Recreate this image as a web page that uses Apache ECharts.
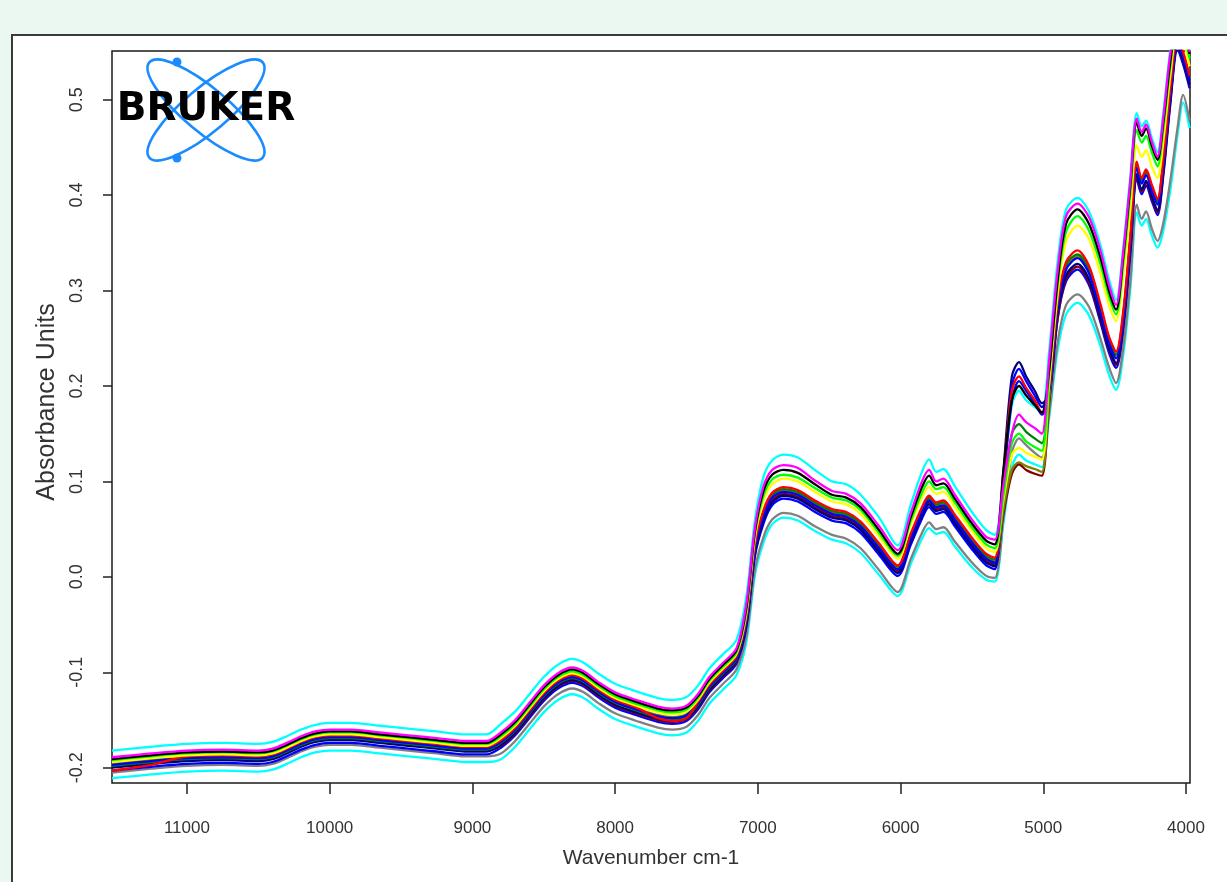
<!DOCTYPE html>
<html><head><meta charset="utf-8">
<script src="https://cdn.jsdelivr.net/npm/echarts@6/dist/echarts.min.js"></script>
<style>
html,body{margin:0;padding:0;width:1227px;height:882px;overflow:hidden;background:#eaf8f1;}
#panel{position:absolute;left:11px;top:34px;width:1240px;height:900px;background:#fff;border:2px solid #3a3a3a;box-sizing:border-box;}
#chart{position:absolute;left:0;top:0;width:1227px;height:882px;}
</style></head><body>
<div id="panel"></div><div id="chart"></div>
<script>
const wavenumbers = [11525,11250,11000,10750,10500,10400,10300,10200,10100,10000,
 9850,9650,9450,9250,9050,8900,8800,8700,8600,8500,
 8400,8300,8220,8120,8000,7850,7700,7600,7500,7420,
 7340,7250,7150,7080,7020,6960,6900,6820,6720,6600,
 6480,6380,6280,6150,6020,5930,5850,5800,5750,5700,
 5620,5500,5400,5340,5280,5220,5170,5120,5060,5010,
 4960,4900,4840,4760,4680,4600,4540,4490,4440,4390,
 4345,4310,4280,4240,4200,4160,4110,4060,4020,3975];
const xTicks = [11000,10000,9000,8000,7000,6000,5000,4000];
const yTicks = [-0.2,-0.1,0.0,0.1,0.2,0.3,0.4,0.5];

const specCyanTop = [-0.182,-0.178,-0.175,-0.174,-0.175,-0.173,-0.167,-0.160,-0.155,-0.153,-0.153,-0.156,-0.159,-0.162,-0.165,-0.165,
 -0.154,-0.141,-0.123,-0.105,-0.092,-0.086,-0.090,-0.101,-0.112,-0.120,-0.127,-0.129,-0.126,-0.114,-0.096,-0.082,-0.066,
 -0.020,0.060,0.105,0.122,0.128,0.125,0.112,0.100,0.097,0.086,0.062,0.033,0.075,0.110,0.123,0.110,0.113,0.095,0.068,0.049,0.044,
 0.100,0.180,0.195,0.185,0.178,0.172,
 0.235,0.330,0.385,0.397,0.383,0.348,0.312,0.290,0.345,0.420,0.486,0.472,0.478,0.460,0.445,0.485,0.552,0.590,0.580,0.552];
const specMagenta = [-0.189,-0.185,-0.182,-0.181,-0.182,-0.180,-0.174,-0.167,-0.162,-0.160,-0.160,-0.163,-0.166,-0.169,-0.172,-0.172,
 -0.163,-0.150,-0.132,-0.114,-0.101,-0.095,-0.099,-0.110,-0.121,-0.129,-0.136,-0.138,-0.135,-0.123,-0.105,-0.091,-0.075,
 -0.028,0.052,0.095,0.112,0.117,0.114,0.101,0.090,0.087,0.077,0.053,0.028,0.066,0.100,0.112,0.100,0.103,0.086,0.060,0.042,0.039,
 0.095,0.150,0.170,0.162,0.156,0.150,
 0.225,0.320,0.378,0.391,0.377,0.342,0.306,0.285,0.340,0.415,0.480,0.466,0.474,0.456,0.440,0.480,0.548,0.588,0.578,0.550];
const specBlack = [-0.191,-0.187,-0.184,-0.183,-0.184,-0.182,-0.176,-0.169,-0.164,-0.162,-0.162,-0.165,-0.168,-0.171,-0.174,-0.174,
 -0.165,-0.152,-0.134,-0.116,-0.103,-0.097,-0.101,-0.112,-0.123,-0.131,-0.138,-0.140,-0.137,-0.125,-0.107,-0.093,-0.077,
 -0.032,0.048,0.090,0.107,0.112,0.109,0.097,0.086,0.083,0.073,0.049,0.024,0.062,0.094,0.106,0.096,0.098,0.082,0.056,0.038,0.034,
 0.110,0.185,0.200,0.190,0.180,0.172,
 0.215,0.310,0.370,0.385,0.370,0.335,0.300,0.280,0.335,0.410,0.476,0.462,0.470,0.452,0.437,0.475,0.540,0.585,0.575,0.548];
const specGreen = [-0.192,-0.188,-0.185,-0.184,-0.185,-0.183,-0.177,-0.170,-0.165,-0.163,-0.163,-0.166,-0.169,-0.172,-0.175,-0.175,
 -0.167,-0.154,-0.136,-0.118,-0.105,-0.099,-0.103,-0.114,-0.125,-0.133,-0.140,-0.142,-0.139,-0.127,-0.109,-0.095,-0.079,
 -0.035,0.045,0.085,0.102,0.107,0.104,0.093,0.083,0.080,0.070,0.046,0.022,0.058,0.088,0.100,0.092,0.094,0.078,0.052,0.034,0.030,
 0.085,0.140,0.150,0.142,0.136,0.132,
 0.210,0.305,0.362,0.378,0.363,0.328,0.294,0.275,0.328,0.402,0.468,0.455,0.462,0.445,0.430,0.468,0.535,0.580,0.570,0.543];
const specYellow = [-0.194,-0.190,-0.187,-0.186,-0.187,-0.185,-0.179,-0.172,-0.167,-0.165,-0.165,-0.168,-0.171,-0.174,-0.177,-0.177,
 -0.169,-0.156,-0.138,-0.120,-0.107,-0.101,-0.105,-0.116,-0.127,-0.135,-0.142,-0.144,-0.141,-0.129,-0.111,-0.097,-0.081,
 -0.038,0.041,0.080,0.097,0.103,0.100,0.089,0.079,0.076,0.066,0.042,0.019,0.054,0.083,0.094,0.087,0.089,0.073,0.048,0.030,0.026,
 0.080,0.128,0.135,0.130,0.126,0.123,
 0.200,0.295,0.352,0.368,0.354,0.318,0.285,0.268,0.315,0.385,0.452,0.440,0.447,0.430,0.418,0.455,0.525,0.572,0.562,0.535];
const specRed = [-0.203,-0.197,-0.188,-0.187,-0.188,-0.186,-0.180,-0.173,-0.168,-0.166,-0.166,-0.169,-0.172,-0.175,-0.178,-0.178,
 -0.171,-0.158,-0.140,-0.122,-0.109,-0.103,-0.107,-0.118,-0.129,-0.137,-0.148,-0.151,-0.148,-0.131,-0.113,-0.099,-0.083,
 -0.042,0.035,0.070,0.088,0.094,0.091,0.080,0.071,0.068,0.058,0.035,0.012,0.045,0.073,0.085,0.078,0.080,0.065,0.041,0.024,0.020,
 0.105,0.195,0.210,0.198,0.185,0.172,
 0.198,0.288,0.330,0.342,0.326,0.286,0.252,0.236,0.278,0.358,0.435,0.418,0.427,0.411,0.396,0.437,0.512,0.565,0.550,0.525];
const specOlive = [-0.196,-0.192,-0.189,-0.188,-0.189,-0.187,-0.181,-0.174,-0.169,-0.167,-0.167,-0.170,-0.173,-0.176,-0.179,-0.179,
 -0.172,-0.159,-0.141,-0.123,-0.110,-0.104,-0.108,-0.119,-0.130,-0.138,-0.145,-0.147,-0.144,-0.132,-0.114,-0.100,-0.084,
 -0.044,0.032,0.067,0.085,0.091,0.088,0.077,0.068,0.065,0.055,0.032,0.010,0.042,0.070,0.082,0.075,0.077,0.062,0.038,0.021,0.017,
 0.070,0.112,0.120,0.116,0.113,0.110,
 0.185,0.283,0.325,0.336,0.320,0.281,0.248,0.232,0.273,0.353,0.430,0.414,0.423,0.407,0.392,0.432,0.507,0.562,0.547,0.522];
const specBlue = [-0.197,-0.193,-0.190,-0.189,-0.190,-0.188,-0.182,-0.175,-0.170,-0.168,-0.168,-0.171,-0.174,-0.177,-0.180,-0.180,
 -0.173,-0.160,-0.142,-0.124,-0.111,-0.105,-0.109,-0.120,-0.131,-0.139,-0.146,-0.148,-0.145,-0.133,-0.115,-0.101,-0.085,
 -0.045,0.030,0.065,0.083,0.089,0.086,0.075,0.066,0.063,0.053,0.030,0.008,0.040,0.068,0.080,0.073,0.075,0.060,0.036,0.019,0.015,
 0.100,0.200,0.218,0.205,0.190,0.178,
 0.195,0.280,0.322,0.334,0.318,0.278,0.245,0.229,0.270,0.350,0.428,0.412,0.421,0.405,0.390,0.430,0.505,0.560,0.545,0.520];
const specNavy = [-0.200,-0.196,-0.193,-0.192,-0.193,-0.191,-0.185,-0.178,-0.173,-0.171,-0.171,-0.174,-0.177,-0.180,-0.183,-0.183,
 -0.176,-0.163,-0.145,-0.127,-0.114,-0.108,-0.112,-0.123,-0.134,-0.142,-0.149,-0.151,-0.148,-0.136,-0.118,-0.104,-0.088,
 -0.050,0.024,0.059,0.078,0.085,0.082,0.071,0.062,0.059,0.049,0.026,0.004,0.036,0.064,0.076,0.069,0.071,0.056,0.032,0.015,0.011,
 0.110,0.210,0.225,0.210,0.195,0.182,
 0.190,0.275,0.316,0.328,0.312,0.272,0.240,0.224,0.264,0.344,0.422,0.406,0.415,0.399,0.384,0.424,0.500,0.556,0.541,0.516];
const specMaroon = [-0.199,-0.195,-0.192,-0.191,-0.192,-0.190,-0.184,-0.177,-0.172,-0.170,-0.170,-0.173,-0.176,-0.179,-0.182,-0.182,
 -0.177,-0.164,-0.146,-0.128,-0.115,-0.109,-0.113,-0.124,-0.135,-0.143,-0.150,-0.152,-0.149,-0.137,-0.119,-0.105,-0.089,
 -0.048,0.027,0.062,0.080,0.087,0.084,0.073,0.064,0.061,0.051,0.028,0.006,0.038,0.066,0.078,0.071,0.073,0.058,0.034,0.017,0.013,
 0.065,0.108,0.118,0.112,0.108,0.106,
 0.180,0.270,0.313,0.325,0.309,0.270,0.238,0.222,0.262,0.342,0.420,0.404,0.413,0.397,0.382,0.422,0.498,0.555,0.540,0.515];
const specDarkGreen = [-0.198,-0.194,-0.191,-0.190,-0.191,-0.189,-0.183,-0.176,-0.171,-0.169,-0.169,-0.172,-0.175,-0.178,-0.181,-0.181,
 -0.174,-0.161,-0.143,-0.125,-0.112,-0.106,-0.110,-0.121,-0.132,-0.140,-0.147,-0.149,-0.146,-0.134,-0.116,-0.102,-0.086,
 -0.043,0.033,0.068,0.086,0.092,0.089,0.078,0.069,0.066,0.056,0.033,0.011,0.043,0.071,0.083,0.076,0.078,0.063,0.039,0.022,0.018,
 0.085,0.150,0.160,0.152,0.145,0.140,
 0.192,0.285,0.327,0.338,0.322,0.283,0.250,0.233,0.275,0.355,0.432,0.416,0.425,0.409,0.394,0.434,0.509,0.563,0.548,0.523];
const specBlue2 = [-0.203,-0.199,-0.196,-0.195,-0.196,-0.194,-0.188,-0.181,-0.176,-0.174,-0.174,-0.177,-0.180,-0.183,-0.186,-0.186,
 -0.179,-0.166,-0.148,-0.130,-0.117,-0.111,-0.115,-0.126,-0.137,-0.145,-0.152,-0.154,-0.151,-0.139,-0.121,-0.107,-0.091,
 -0.052,0.022,0.056,0.075,0.082,0.079,0.068,0.059,0.056,0.046,0.023,0.001,0.033,0.061,0.073,0.066,0.068,0.053,0.029,0.012,0.008,
 0.095,0.185,0.205,0.195,0.182,0.170,
 0.185,0.270,0.310,0.322,0.306,0.267,0.235,0.219,0.259,0.339,0.417,0.401,0.410,0.394,0.379,0.419,0.495,0.552,0.537,0.512];
const specGray = [-0.205,-0.201,-0.198,-0.197,-0.198,-0.196,-0.190,-0.183,-0.178,-0.176,-0.176,-0.179,-0.182,-0.185,-0.188,-0.188,
 -0.185,-0.172,-0.154,-0.136,-0.123,-0.117,-0.121,-0.132,-0.143,-0.151,-0.158,-0.160,-0.157,-0.145,-0.127,-0.113,-0.097,
 -0.062,0.008,0.042,0.060,0.067,0.064,0.053,0.044,0.040,0.030,0.007,-0.016,0.018,0.046,0.057,0.050,0.052,0.037,0.015,0.001,-0.001,
 0.060,0.130,0.145,0.138,0.130,0.125,
 0.170,0.245,0.285,0.296,0.283,0.250,0.220,0.203,0.240,0.310,0.390,0.375,0.383,0.365,0.352,0.370,0.415,0.470,0.505,0.478];
const specCyanLow = [-0.211,-0.207,-0.204,-0.203,-0.204,-0.202,-0.196,-0.189,-0.184,-0.182,-0.182,-0.185,-0.188,-0.191,-0.194,-0.194,
 -0.191,-0.178,-0.160,-0.142,-0.129,-0.123,-0.127,-0.138,-0.149,-0.157,-0.164,-0.166,-0.163,-0.151,-0.133,-0.119,-0.103,
 -0.068,0.002,0.036,0.055,0.062,0.059,0.048,0.039,0.035,0.025,0.002,-0.020,0.013,0.040,0.051,0.045,0.047,0.032,0.010,-0.003,-0.005,
 0.055,0.115,0.128,0.122,0.118,0.115,
 0.165,0.237,0.275,0.287,0.274,0.242,0.212,0.196,0.232,0.302,0.382,0.368,0.375,0.358,0.345,0.362,0.405,0.462,0.497,0.470];

const spectra = [
  ['cyanTop', '#00ffff', specCyanTop],
  ['cyanLow', '#00ffff', specCyanLow],
  ['gray', '#808080', specGray],
  ['blue2', '#0000ff', specBlue2],
  ['maroon', '#800000', specMaroon],
  ['navy', '#000080', specNavy],
  ['olive', '#808000', specOlive],
  ['darkgreen', '#008000', specDarkGreen],
  ['blue', '#0000ff', specBlue],
  ['red', '#ff0000', specRed],
  ['yellow', '#ffff00', specYellow],
  ['green', '#00ff00', specGreen],
  ['black', '#000000', specBlack],
  ['magenta', '#ff00ff', specMagenta]
];

const font = 'Liberation Sans, Arial, sans-serif';
const chart = echarts.init(document.getElementById('chart'), null, {renderer: 'canvas'});
chart.setOption({
  animation: false,
  backgroundColor: 'transparent',
  grid: {left: 112, right: 37, top: 51, bottom: 99, show: true, borderColor: '#1a1a1a', borderWidth: 1.5, backgroundColor: 'transparent'},
  xAxis: {
    type: 'value', inverse: true, min: 3972, max: 11525,
    name: 'Wavenumber cm-1', nameLocation: 'middle', nameGap: 65,
    nameTextStyle: {fontFamily: font, fontSize: 21, color: '#333'},
    axisLine: {show: false, onZero: false},
    splitLine: {show: false},
    axisTick: {show: true, length: 11, inside: false, customValues: xTicks, lineStyle: {color: '#222', width: 1.5}},
    axisLabel: {customValues: xTicks, margin: 37, fontFamily: font, fontSize: 17, color: '#333', formatter: v => String(v)}
  },
  yAxis: {
    type: 'value', min: -0.216, max: 0.551,
    name: 'Absorbance Units', nameLocation: 'middle', nameGap: 52, nameRotate: 90,
    nameTextStyle: {fontFamily: font, fontSize: 25, color: '#333', padding: [0, 0, 0, 30]},
    axisLine: {show: false, onZero: false},
    splitLine: {show: false},
    axisTick: {show: true, length: 9, inside: false, customValues: yTicks, lineStyle: {color: '#222', width: 1.5}},
    axisLabel: {customValues: yTicks, rotate: 90, margin: 26, fontFamily: font, fontSize: 18, color: '#333', formatter: v => v.toFixed(1)}
  },
  series: spectra.map(([name, color, vals]) => ({
    name, type: 'line', showSymbol: false, smooth: 0.3, clip: true,
    lineStyle: {color, width: 2.3},
    itemStyle: {color},
    data: wavenumbers.map((w, i) => [w, vals[i]])
  })),
  graphic: [
    {type: 'ellipse', shape: {cx: 0, cy: 0, rx: 74, ry: 22}, x: 206, y: 110, rotation: -Math.PI * 40 / 180,
     style: {fill: 'none', stroke: '#1a8cff', lineWidth: 2.6}, z: 100},
    {type: 'ellipse', shape: {cx: 0, cy: 0, rx: 74, ry: 22}, x: 206, y: 110, rotation: Math.PI * 40 / 180,
     style: {fill: 'none', stroke: '#1a8cff', lineWidth: 2.6}, z: 100},
    {type: 'circle', shape: {cx: 177, cy: 62, r: 4.5}, style: {fill: '#1a8cff'}, z: 100},
    {type: 'circle', shape: {cx: 177, cy: 158, r: 4.5}, style: {fill: '#1a8cff'}, z: 100},
    {type: 'text', x: 206, y: 110, z: 101,
     style: {text: 'BRUKER', fontFamily: 'DejaVu Sans, sans-serif', fontWeight: 900, fontSize: 39, fill: '#000', align: 'center', verticalAlign: 'middle'}}
  ]
});
</script>
</body></html>
